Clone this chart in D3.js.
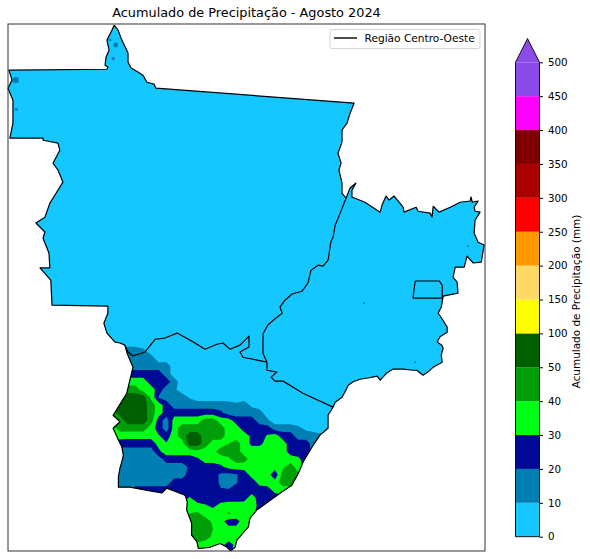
<!DOCTYPE html>
<html>
<head>
<meta charset="utf-8">
<script src="https://cdn.jsdelivr.net/npm/d3@7"></script>
<style>
  body { margin: 0; background: #fff; }
  text { font-family: "DejaVu Sans", sans-serif; fill: #000; }
</style>
</head>
<body>
<svg id="chart" width="590" height="559"></svg>
<script>
const titleText = 'Acumulado de Precipitação - Agosto 2024'
const legendText = 'Região Centro-Oeste'
const barLabel = 'Acumulado de Precipitação (mm)'

// colour bar classes, bottom to top
const barTicks = ['0', '10', '20', '30', '40', '50', '100', '150', '200', '250', '300', '350', '400', '450', '500']
const barColors = ['#14c8ff', '#007fb2', '#000a94', '#00ff12', '#009f0a', '#005f00', '#ffff00', '#ffd966',
  '#ff9900', '#ff0000', '#aa0000', '#800000', '#ff00ff', '#8a4be8']

// contour levels actually reached by the field
const levels = [10, 20, 30, 40, 50]

// region outline, lon / lat
const outerBorder = [
  [-57.94,-7.25],[-57.81,-7.41],[-57.69,-7.73],[-57.56,-7.99],[-57.49,-8.15],[-57.49,-8.44],[-57.39,-8.63],[-57.17,-8.76],
  [-57.01,-8.86],[-56.88,-9.09],[-56.65,-9.15],[-56.59,-9.28],[-50.20,-9.76],[-50.33,-10.09],[-50.43,-10.41],[-50.59,-10.63],
  [-50.59,-11.02],[-50.72,-11.38],[-50.62,-11.70],[-50.69,-11.92],[-50.59,-12.34],[-50.59,-12.67],[-50.46,-12.83],[-50.33,-12.50],
  [-50.14,-12.34],[-50.27,-12.57],[-50.27,-12.79],[-49.85,-12.96],[-49.36,-13.28],[-49.30,-13.05],[-49.17,-12.76],[-49.07,-12.89],
  [-48.91,-12.76],[-48.62,-13.12],[-48.59,-13.28],[-48.20,-13.12],[-48.14,-13.25],[-47.75,-13.31],[-47.69,-13.44],[-47.65,-13.09],
  [-47.46,-13.28],[-47.10,-13.12],[-46.78,-12.96],[-46.46,-12.92],[-46.43,-12.79],[-46.39,-12.96],[-46.20,-12.92],[-46.33,-13.12],
  [-46.30,-13.25],[-46.14,-13.28],[-46.30,-13.54],[-46.33,-13.96],[-46.20,-14.25],[-46.01,-14.34],[-46.10,-14.89],[-46.36,-14.92],
  [-46.56,-14.70],[-46.65,-15.05],[-46.94,-15.05],[-47.01,-15.38],[-46.88,-15.54],[-46.85,-15.89],[-47.33,-15.99],[-47.39,-16.34],
  [-47.49,-16.54],[-47.37,-16.71],[-47.20,-16.99],[-47.20,-17.15],[-47.43,-17.30],[-47.52,-17.47],[-47.37,-17.57],[-47.33,-17.67],
  [-47.39,-17.89],[-47.36,-18.12],[-47.65,-18.28],[-47.81,-18.43],[-47.98,-18.54],[-48.18,-18.38],[-48.30,-18.38],[-48.62,-18.34],
  [-48.94,-18.34],[-49.15,-18.47],[-49.36,-18.70],[-49.46,-18.57],[-49.75,-18.63],[-50.01,-18.67],[-50.23,-18.75],[-50.39,-18.86],
  [-50.49,-19.07],[-50.59,-19.25],[-50.81,-19.41],[-50.88,-19.57],[-51.04,-19.83],[-51.04,-20.25],[-51.30,-20.47],[-51.56,-20.86],
  [-51.84,-21.33],[-52.00,-21.71],[-52.21,-22.09],[-52.59,-22.35],[-52.97,-22.62],[-53.34,-22.89],[-53.56,-23.16],[-53.61,-23.43],
  [-53.98,-23.86],[-54.04,-24.09],[-54.18,-24.20],[-54.31,-24.08],[-54.52,-23.97],[-54.85,-24.09],[-55.22,-24.13],[-55.27,-23.91],
  [-55.44,-23.70],[-55.44,-23.31],[-55.60,-22.89],[-55.58,-22.62],[-55.65,-22.41],[-56.24,-22.18],[-56.40,-22.34],[-56.78,-22.27],
  [-57.43,-22.15],[-57.80,-22.15],[-57.80,-21.82],[-57.75,-21.54],[-57.69,-21.33],[-57.64,-21.12],[-57.69,-20.85],[-57.80,-20.63],
  [-57.97,-20.25],[-57.75,-20.04],[-57.97,-19.83],[-57.53,-19.12],[-57.43,-18.70],[-57.33,-18.28],[-57.52,-17.83],[-57.59,-17.57],
  [-57.75,-17.50],[-57.91,-17.47],[-58.17,-17.18],[-58.27,-16.86],[-58.14,-16.54],[-58.14,-16.31],[-59.94,-16.28],[-59.98,-15.47],
  [-60.33,-15.08],[-60.01,-15.08],[-60.04,-14.60],[-60.23,-14.12],[-60.17,-13.92],[-60.46,-13.63],[-60.17,-13.44],[-60.01,-12.99],
  [-59.81,-12.67],[-59.59,-12.31],[-59.75,-11.92],[-59.91,-11.70],[-59.69,-11.28],[-59.75,-11.05],[-60.23,-10.96],[-60.23,-10.89],
  [-61.30,-10.89],[-61.20,-10.41],[-61.20,-9.67],[-61.36,-9.28],[-61.23,-9.02],[-61.33,-8.70],[-58.17,-8.67],[-58.14,-8.60],
  [-58.23,-8.54],[-58.20,-8.28],[-58.10,-8.05],[-58.17,-7.73],[-58.01,-7.41]
]
const mtGoBorder = [
  [-50.46,-12.83],[-50.65,-13.31],[-50.81,-13.70],[-50.88,-14.09],[-50.95,-14.24],[-51.04,-14.83],[-51.20,-15.02],[-51.36,-14.99],[-51.59,-15.15],
  [-51.69,-15.57],[-51.88,-15.83],[-52.20,-15.92],[-52.43,-16.12],[-52.59,-16.34],[-52.52,-16.54],[-52.80,-16.76],[-52.98,-16.92],[-53.13,-17.19],
  [-53.14,-17.41],[-53.14,-17.83],[-53.01,-18.12]
]
const msGoBorder = [
  [-53.01,-18.12],[-53.01,-18.38],[-52.69,-18.44],[-52.88,-18.60],[-52.75,-18.73],[-52.49,-18.73],[-51.85,-19.12],[-50.88,-19.57]
]
const mtMsBorder = [
  [-53.01,-18.12],[-53.33,-18.05],[-53.78,-17.96],[-53.88,-17.79],[-53.59,-17.63],[-53.59,-17.28],[-53.88,-17.57],[-54.20,-17.70],
  [-54.43,-17.50],[-54.62,-17.54],[-55.01,-17.70],[-55.43,-17.44],[-55.91,-17.18],[-56.30,-17.34],[-56.62,-17.38],[-56.94,-17.79],
  [-57.33,-17.92],[-57.49,-17.79],[-57.59,-17.57]
]
const dfBorder = [
  [-48.23,-15.50],[-47.46,-15.50],[-47.36,-15.63],[-47.36,-16.05],[-48.30,-16.05],[-48.27,-15.79],[-48.23,-15.50]
]

// isolated 10-20 mm showers in the dry north
const showerLon = [-61.11, -61.09, -57.89, -57.97, -58.07, -46.52, -49.88, -48.23]
const showerLat = [-9.02, -9.96, -7.89, -8.33, -7.73, -14.38, -16.21, -18.12]
const showerArea = [30, 7, 18, 8, 6, 3, 3, 3]

// rainfall in mm on a 0.25 degree grid over the south of the region
const gridLon0 = -58.25
const gridLat0 = -17.0
const gridStep = 0.25
const rainGrid = [
  [5,5,5,5,5,5,5,5,5,5,5,5,5,5,5,5,5,5,5,5,5,5,5,5,5,5,5,5,5,5,5,5],
  [5,5,5,5,5,5,5,5,5,5,5,5,5,5,5,5,5,5,5,5,5,5,5,5,5,5,5,5,5,5,5,5],
  [5,5,5,5,5,5,5,5,5,5,5,5,5,5,5,5,5,5,5,5,5,5,5,5,5,5,5,5,5,5,5,5],
  [5,5,15,15,15,12,5,5,5,5,5,5,5,5,5,5,5,5,5,5,5,5,5,5,5,5,5,5,5,5,5,5],
  [5,5,15,15,15,15,15,5,5,5,5,5,5,5,5,5,5,5,5,5,5,5,5,5,5,5,5,5,5,5,5,5],
  [5,5,15,15,15,15,15,15,15,5,5,5,5,5,5,5,5,5,5,5,5,5,5,5,5,5,5,5,5,5,5,5],
  [5,15,15,25,25,25,25,25,15,5,5,5,5,5,5,5,5,5,5,5,5,5,5,5,5,5,5,5,5,5,5,5],
  [15,25,25,35,35,35,25,25,25,15,5,5,5,5,5,5,5,5,5,5,5,5,5,5,5,5,5,5,5,5,5,5],
  [25,35,35,45,45,35,35,25,15,12,5,5,5,5,5,5,5,5,5,5,5,5,5,5,5,5,5,5,5,5,5,5],
  [35,35,45,55,55,55,38,19,15,15,15,9,5,5,5,5,5,5,5,5,5,5,5,5,5,5,5,5,5,5,5,5],
  [45,45,55,55,55,55,45,35,25,15,15,15,15,15,15,15,14,12,15,8,5,5,5,5,5,5,5,5,5,5,5,5],
  [45,45,55,55,55,55,45,35,25,25,25,25,25,25,25,22,15,15,15,15,14,5,5,5,5,5,5,5,5,5,5,5],
  [45,45,45,55,55,55,45,25,15,35,35,35,35,45,45,35,35,25,25,25,15,12,5,5,5,5,5,5,5,5,5,5],
  [35,35,45,45,45,45,35,25,15,35,45,45,45,45,45,45,35,35,25,25,25,25,15,15,15,12,8,5,5,5,5,5],
  [33,35,34,33,33,33,33,31,25,36,45,55,55,45,45,45,35,35,35,28,25,31,35,25,25,15,15,15,12,5,5,5],
  [25,25,25,25,25,25,25,33,31,35,35,55,55,45,35,35,40,45,35,28,28,33,35,35,25,25,25,15,15,15,5,5],
  [15,15,15,15,15,15,15,28,35,35,35,35,38,35,37,45,45,45,35,35,35,35,35,35,25,25,25,15,15,15,5,5],
  [15,15,15,15,15,15,15,15,25,25,25,25,28,35,35,35,38,45,45,35,35,35,35,35,35,32,25,25,25,25,25,25],
  [15,15,15,15,15,15,15,15,15,15,15,22,25,25,25,28,33,35,33,33,35,35,35,38,45,35,25,25,25,25,25,25],
  [15,15,15,15,15,15,15,15,15,15,15,25,25,25,25,18,17,19,25,33,35,35,22,45,45,42,35,35,35,35,35,35],
  [15,15,15,15,15,15,15,15,15,25,25,25,25,25,25,18,15,19,25,25,33,35,35,45,45,38,35,35,35,35,35,35],
  [15,15,15,15,25,25,25,25,25,25,25,25,25,25,25,21,21,25,25,25,25,25,33,35,35,35,35,35,35,35,35,35],
  [25,25,25,25,25,25,25,25,25,25,25,31,25,25,25,25,25,25,26,35,25,25,25,25,25,25,25,25,25,25,25,25],
  [25,25,25,25,25,25,25,25,25,25,35,35,33,31,28,33,35,35,35,35,27,25,25,25,25,25,25,25,25,25,25,25],
  [25,25,25,25,25,25,25,25,25,25,35,40,42,35,35,35,41,38,35,33,25,25,25,25,25,25,25,25,25,25,25,25],
  [25,25,25,25,25,25,25,25,25,25,35,45,45,45,38,33,26,26,35,35,25,25,25,25,25,25,25,25,25,25,25,25],
  [25,25,25,25,25,25,25,25,25,25,35,45,45,45,40,35,33,33,35,35,25,25,25,25,25,25,25,25,25,25,25,25],
  [25,25,25,25,25,25,25,25,25,25,35,40,45,45,38,35,35,35,35,35,25,25,25,25,25,25,25,25,25,25,25,25],
  [25,25,25,25,25,25,25,25,25,25,35,35,38,35,35,33,27,32,35,35,25,25,25,25,25,25,25,25,25,25,25,25],
  [25,25,25,25,25,25,25,25,25,25,35,35,35,35,35,35,25,35,35,35,25,25,25,25,25,25,25,25,25,25,25,25]
]

const svg = d3.select('#chart')

const x = d3.scaleLinear().domain([-61.36, -45.98]).range([8, 485])
const y = d3.scaleLinear().domain([-7.21, -24.21]).range([24, 551])

const lineGen = d3.line().x(d => x(d[0])).y(d => y(d[1]))

const map = svg.append('g')

map.append('clipPath').attr('id', 'region')
  .append('path').attr('d', lineGen(outerBorder) + 'Z')

const field = map.append('g').attr('clip-path', 'url(#region)')

field.append('rect')
  .attr('x', x.range()[0]).attr('y', y.range()[0])
  .attr('width', x.range()[1] - x.range()[0])
  .attr('height', y.range()[1] - y.range()[0])
  .attr('fill', barColors[0])

// d3 places grid value i at contour coordinate i + 0.5
const gridPath = d3.geoPath(d3.geoTransform({
  point: function (cx, cy) {
    this.stream.point(x(gridLon0 + (cx - 0.5) * gridStep), y(gridLat0 - (cy - 0.5) * gridStep))
  }
}))

const contours = d3.contours()
  .size([rainGrid[0].length, rainGrid.length])
  .thresholds(levels)(rainGrid.flat())

field.selectAll('path.band')
  .data(contours)
  .enter()
  .append('path')
  .attr('class', 'band')
  .attr('d', gridPath)
  .attr('fill', (d, i) => barColors[i + 1])

const showerR = d3.scaleSqrt().domain([0, 30]).range([0, 3.2])

field.selectAll('circle')
  .data(showerLon)
  .enter()
  .append('circle')
  .attr('cx', d => x(d))
  .attr('cy', (d, i) => y(showerLat[i]))
  .attr('r', (d, i) => showerR(showerArea[i]))
  .attr('fill', barColors[1])

map.selectAll('path.border')
  .data([outerBorder.concat([outerBorder[0]]), mtGoBorder, msGoBorder, mtMsBorder, dfBorder])
  .enter()
  .append('path')
  .attr('class', 'border')
  .attr('d', lineGen)
  .attr('fill', 'none')
  .attr('stroke', '#000')
  .attr('stroke-width', 1.2)
  .attr('stroke-linejoin', 'round')

// axes frame
svg.append('rect')
  .attr('x', 8).attr('y', 24)
  .attr('width', 477).attr('height', 527)
  .attr('fill', 'none')
  .attr('stroke', '#333')
  .attr('stroke-width', 1)

svg.append('text')
  .attr('x', 246.5).attr('y', 17)
  .attr('text-anchor', 'middle')
  .attr('font-size', '12.85px')
  .text(titleText)

// legend
const legend = svg.append('g')
legend.append('rect')
  .attr('x', 330).attr('y', 29.5)
  .attr('width', 150).attr('height', 19)
  .attr('rx', 2)
  .attr('fill', '#fff')
  .attr('stroke', '#d6d6d6')
legend.append('line')
  .attr('x1', 334).attr('x2', 357)
  .attr('y1', 38).attr('y2', 38)
  .attr('stroke', '#000')
  .attr('stroke-width', 1.4)
legend.append('text')
  .attr('x', 364.5).attr('y', 42)
  .attr('font-size', '10.6px')
  .text(legendText)

// colour bar
const barY = d3.scalePoint().domain(barTicks).range([536.7, 62.3])
const bar = svg.append('g')
const barX0 = 515.5, barX1 = 539.5

bar.selectAll('rect')
  .data(barColors)
  .enter()
  .append('rect')
  .attr('x', barX0)
  .attr('width', barX1 - barX0)
  .attr('y', (d, i) => barY(barTicks[i + 1]))
  .attr('height', (d, i) => barY(barTicks[i]) - barY(barTicks[i + 1]))
  .attr('fill', d => d)

// extend='max' arrow and outline
const tipY = 38.5
bar.append('path')
  .attr('d', `M${barX0},${barY('500')}L${(barX0 + barX1) / 2},${tipY}L${barX1},${barY('500')}Z`)
  .attr('fill', barColors[13])
bar.append('path')
  .attr('d', `M${barX0},${barY('0')}L${barX0},${barY('500')}L${(barX0 + barX1) / 2},${tipY}L${barX1},${barY('500')}L${barX1},${barY('0')}Z`)
  .attr('fill', 'none')
  .attr('stroke', '#000')
  .attr('stroke-width', 0.9)

const barAxis = svg.append('g')
  .attr('transform', `translate(${barX1},0)`)
  .call(d3.axisRight(barY).tickSize(3.5).tickPadding(5))
barAxis.select('.domain').remove()
barAxis.selectAll('text').attr('font-size', '10.3px').style('font-family', '"DejaVu Sans", sans-serif')

svg.append('text')
  .attr('transform', 'translate(580,301.5) rotate(-90)')
  .attr('text-anchor', 'middle')
  .attr('font-size', '10.45px')
  .text(barLabel)
</script>
</body>
</html>
